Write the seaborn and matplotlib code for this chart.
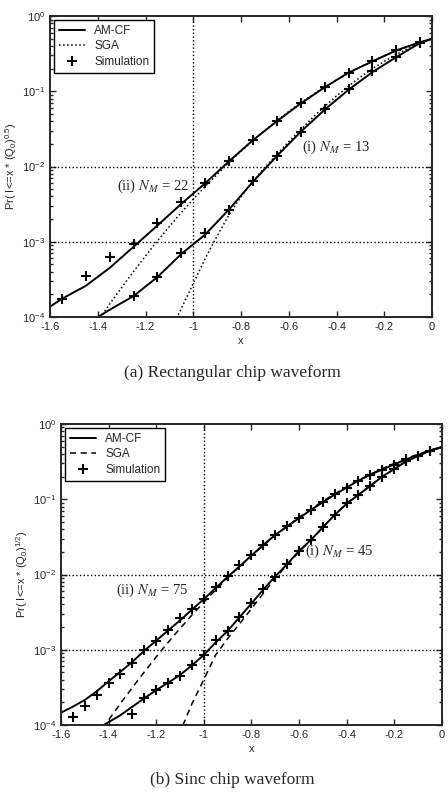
import numpy as np
import matplotlib
matplotlib.use("Agg")
import matplotlib.pyplot as plt
from matplotlib.lines import Line2D
import seaborn as sns

# ---- (a) rectangular chip: simulation points ----
a_sim_ii_x = [-1.55, -1.45, -1.35, -1.25, -1.15, -1.05, -0.95, -0.85, -0.75, -0.65, -0.55, -0.45, -0.35, -0.25, -0.15, -0.05]
a_sim_ii_y = [1.74e-4, 3.55e-4, 6.3e-4, 9.3e-4, 1.76e-3, 3.4e-3, 6.1e-3, 0.0119, 0.0225, 0.040, 0.069, 0.113, 0.177, 0.252, 0.353, 0.45]
a_sim_i_x = [-1.25, -1.15, -1.05, -0.95, -0.85, -0.75, -0.65, -0.55, -0.45, -0.35, -0.25, -0.15, -0.05]
a_sim_i_y = [1.92e-4, 3.43e-4, 7.2e-4, 1.32e-3, 2.64e-3, 6.5e-3, 0.0138, 0.029, 0.0575, 0.107, 0.186, 0.288, 0.44]

# (a) AM-CF curves
a_am_ii_x = [-1.6, -1.55, -1.45, -1.35, -1.25, -1.15, -1.05, -0.95, -0.85, -0.75, -0.65, -0.55, -0.45, -0.35, -0.25, -0.15, -0.05, 0.0]
a_am_ii_y = [1.37e-4, 1.75e-4, 2.6e-4, 4.5e-4, 8.6e-4, 1.65e-3, 3.2e-3, 6.0e-3, 0.0118, 0.0225, 0.040, 0.069, 0.113, 0.177, 0.25, 0.35, 0.45, 0.5]
a_am_i_x = [-1.4, -1.35, -1.25, -1.15, -1.05, -0.95, -0.85, -0.75, -0.65, -0.55, -0.45, -0.35, -0.25, -0.15, -0.05, 0.0]
a_am_i_y = [1.0e-4, 1.25e-4, 1.9e-4, 3.4e-4, 6.9e-4, 1.25e-3, 2.7e-3, 6.3e-3, 0.0138, 0.029, 0.057, 0.105, 0.18, 0.285, 0.44, 0.5]

# (a) SGA curves
a_sga_x = [-1.4, -1.35, -1.3, -1.25, -1.2, -1.15, -1.1, -1.05, -1.0, -0.95, -0.9, -0.85, -0.8, -0.75, -0.7,
           -0.65, -0.6, -0.55, -0.5, -0.45, -0.4, -0.35, -0.3, -0.25, -0.2, -0.15, -0.1, -0.05, 0.0]
a_sga_ii_y = [8.8e-5, 1.49e-4, 2.47e-4, 4.04e-4, 6.5e-4, 1.03e-3, 1.6e-3, 2.45e-3, 3.68e-3, 5.45e-3, 7.9e-3, 0.01135, 0.016, 0.0222, 0.0303,
              0.0408, 0.0539, 0.0702, 0.090, 0.114, 0.142, 0.174, 0.211, 0.251, 0.296, 0.344, 0.394, 0.447, 0.5]
a_sga_i_y = [2e-6, 4e-6, 8e-6, 1.5e-5, 2.5e-5, 3.5e-5, 6.0e-5, 1.3e-4, 2.8e-4, 6.0e-4, 1.2e-3, 2.3e-3, 4.0e-3, 6.4e-3, 9.8e-3,
             0.0145, 0.0215, 0.031, 0.045, 0.063, 0.087, 0.117, 0.155, 0.20, 0.25, 0.31, 0.37, 0.433, 0.5]

# ---- (b) sinc chip: simulation points ----
b_sim_ii_x = [-1.55, -1.5, -1.45, -1.4, -1.35, -1.3, -1.25, -1.2, -1.15, -1.1, -1.05, -1.0, -0.95, -0.9, -0.85, -0.8,
              -0.75, -0.7, -0.65, -0.6, -0.55, -0.5, -0.45, -0.4, -0.35, -0.3, -0.25, -0.2, -0.15, -0.1, -0.05]
b_sim_ii_y = [1.29e-4, 1.8e-4, 2.5e-4, 3.6e-4, 4.8e-4, 6.7e-4, 9.9e-4, 1.32e-3, 1.83e-3, 2.62e-3, 3.44e-3, 4.8e-3, 6.9e-3, 9.6e-3, 0.0134, 0.0183,
              0.0247, 0.0335, 0.0436, 0.056, 0.072, 0.091, 0.117, 0.141, 0.177, 0.212, 0.247, 0.288, 0.343, 0.379, 0.443]
b_sim_i_x = [-1.3, -1.25, -1.2, -1.15, -1.1, -1.05, -1.0, -0.95, -0.9, -0.85, -0.8, -0.75, -0.7,
             -0.65, -0.6, -0.55, -0.5, -0.45, -0.4, -0.35, -0.3, -0.25, -0.2, -0.15, -0.1, -0.05]
b_sim_i_y = [1.39e-4, 2.26e-4, 2.9e-4, 3.65e-4, 4.5e-4, 6.3e-4, 8.5e-4, 1.33e-3, 1.77e-3, 2.7e-3, 4.14e-3, 6.35e-3, 9.4e-3,
             0.0137, 0.0205, 0.0287, 0.0424, 0.0618, 0.088, 0.114, 0.151, 0.20, 0.252, 0.319, 0.372, 0.443]

# (b) AM-CF curves
b_am_ii_x = [-1.6, -1.55, -1.5, -1.45, -1.4, -1.35, -1.3, -1.25, -1.2, -1.15, -1.1, -1.05, -1.0, -0.95, -0.9, -0.85, -0.8,
             -0.75, -0.7, -0.65, -0.6, -0.55, -0.5, -0.45, -0.4, -0.35, -0.3, -0.25, -0.2, -0.15, -0.1, -0.05, 0.0]
b_am_ii_y = [1.46e-4, 1.75e-4, 2.15e-4, 2.8e-4, 3.8e-4, 5.1e-4, 6.9e-4, 9.7e-4, 1.32e-3, 1.8e-3, 2.45e-3, 3.4e-3, 4.7e-3, 6.6e-3, 9.3e-3, 0.0128, 0.0178,
             0.0247, 0.0335, 0.0436, 0.056, 0.072, 0.091, 0.115, 0.143, 0.177, 0.212, 0.249, 0.29, 0.338, 0.385, 0.443, 0.49]
b_am_i_x = [-1.42, -1.35, -1.3, -1.25, -1.2, -1.15, -1.1, -1.05, -1.0, -0.95, -0.9, -0.85, -0.8, -0.75, -0.7,
            -0.65, -0.6, -0.55, -0.5, -0.45, -0.4, -0.35, -0.3, -0.25, -0.2, -0.15, -0.1, -0.05, 0.0]
b_am_i_y = [1.0e-4, 1.35e-4, 1.75e-4, 2.26e-4, 2.9e-4, 3.65e-4, 4.6e-4, 6.2e-4, 8.5e-4, 1.25e-3, 1.77e-3, 2.7e-3, 4.1e-3, 6.3e-3, 9.4e-3,
            0.0137, 0.0205, 0.0287, 0.0424, 0.0618, 0.087, 0.115, 0.151, 0.20, 0.252, 0.317, 0.375, 0.443, 0.49]

# (b) SGA curves
b_sga_x = [-1.45, -1.4, -1.35, -1.3, -1.25, -1.2, -1.15, -1.1, -1.05, -1.0, -0.95, -0.9, -0.85, -0.8, -0.75, -0.7,
           -0.65, -0.6, -0.55, -0.5, -0.45, -0.4, -0.35, -0.3, -0.25, -0.2, -0.15, -0.1, -0.05, 0.0]
b_sga_ii_y = [6.9e-5, 1.16e-4, 1.93e-4, 3.14e-4, 5.05e-4, 8.0e-4, 1.25e-3, 1.91e-3, 2.88e-3, 4.27e-3, 6.23e-3, 8.97e-3, 0.0127, 0.0177, 0.0243, 0.0328,
              0.0437, 0.0573, 0.074, 0.0943, 0.118, 0.146, 0.179, 0.215, 0.255, 0.299, 0.347, 0.396, 0.448, 0.5]
b_sga_i_y = [2e-6, 4e-6, 8e-6, 1.3e-5, 2e-5, 3e-5, 4.5e-5, 8.0e-5, 1.9e-4, 4.0e-4, 8.5e-4, 1.4e-3, 2.2e-3, 3.5e-3, 5.6e-3, 8.9e-3,
             0.0133, 0.020, 0.0285, 0.042, 0.062, 0.088, 0.115, 0.151, 0.20, 0.252, 0.32, 0.375, 0.44, 0.5]

sns.set_style("ticks")
plt.rcParams["font.family"] = ["Liberation Sans", "DejaVu Sans"]
plt.rcParams["mathtext.fontset"] = "stix"
plt.rcParams["axes.linewidth"] = 1.4

fig = plt.figure(figsize=(4.48, 7.92), dpi=100)
ax1 = fig.add_axes([0.1116, 0.5997, 0.853, 0.380])
ax2 = fig.add_axes([0.136, 0.0846, 0.850, 0.380])

serif = ["Liberation Serif", "DejaVu Serif"]


def draw_panel(ax, sga_x, sga_i, sga_ii, am, sims, sga_ls, ylab, notes):
    for xx, yy in am:
        sns.lineplot(x=xx, y=yy, color="k", lw=1.4, ax=ax, sort=False)
    for yy in (sga_i, sga_ii):
        sns.lineplot(x=sga_x, y=yy, color="k", lw=1.1, linestyle=sga_ls, ax=ax, sort=False)
    for xx, yy in sims:
        sns.scatterplot(x=xx, y=yy, marker="+", s=60, color="k", linewidth=1.5, ax=ax, zorder=5)

    ax.set_yscale("log")
    ax.set_xlim(-1.6, 0)
    ax.set_ylim(1e-4, 1)
    ax.set_xticks(np.arange(-1.6, 0.01, 0.2))
    ax.set_xticklabels(["-1.6", "-1.4", "-1.2", "-1", "-0.8", "-0.6", "-0.4", "-0.2", "0"])
    ax.tick_params(which="both", direction="in", top=True, right=True, labelsize=8, width=1)
    ax.tick_params(which="major", length=4)
    ax.tick_params(which="minor", length=2.5)

    ax.axhline(1e-2, color="k", lw=1, ls=":", zorder=1)
    ax.axhline(1e-3, color="k", lw=1, ls=":", zorder=1)
    ax.axvline(-1, color="k", lw=1, ls=":", zorder=1)

    ax.set_xlabel("x", fontsize=8, labelpad=3)
    ax.set_ylabel(ylab, fontsize=8, labelpad=2)

    for tx, ty, s in notes:
        ax.text(tx, ty, s, fontsize=10.5, family=serif, ha="left", va="center")

    handles = [
        Line2D([], [], color="k", lw=1.4, label="AM-CF"),
        Line2D([], [], color="k", lw=1.1, ls=sga_ls, label="SGA"),
        Line2D([], [], color="k", lw=0, marker="+", ms=7.5, mew=1.5, label="Simulation"),
    ]
    leg = ax.legend(handles=handles, loc="upper left", fontsize=8.5, frameon=True, fancybox=False,
                    edgecolor="k", framealpha=1, borderaxespad=0.35, handlelength=2.2,
                    borderpad=0.4, labelspacing=0.3)
    leg.get_frame().set_linewidth(1.0)


draw_panel(ax1, a_sga_x, a_sga_i_y, a_sga_ii_y,
           [(a_am_ii_x, a_am_ii_y), (a_am_i_x, a_am_i_y)],
           [(a_sim_ii_x, a_sim_ii_y), (a_sim_i_x, a_sim_i_y)],
           ":", r"Pr( I<=x * (Q$_\mathdefault{0}$)$^\mathdefault{0.5}$)",
           [(-0.545, 0.018, r"(i) $N_M$ = 13"), (-1.32, 0.0054, r"(ii) $N_M$ = 22")])

draw_panel(ax2, b_sga_x, b_sga_i_y, b_sga_ii_y,
           [(b_am_ii_x, b_am_ii_y), (b_am_i_x, b_am_i_y)],
           [(b_sim_ii_x, b_sim_ii_y), (b_sim_i_x, b_sim_i_y)],
           (0, (4, 3)), r"Pr( I<=x * (Q$_\mathdefault{0}$)$^\mathdefault{1/2}$)",
           [(-0.575, 0.0201, r"(i) $N_M$ = 45"), (-1.37, 0.0062, r"(ii) $N_M$ = 75")])

fig.text(0.518, 1 - 373 / 792, "(a) Rectangular chip waveform", ha="center", va="center",
         fontsize=12.5, family=serif)
fig.text(0.518, 1 - 780 / 792, "(b) Sinc chip waveform", ha="center", va="center",
         fontsize=12.5, family=serif)

fig.savefig("out.png", dpi=100)
